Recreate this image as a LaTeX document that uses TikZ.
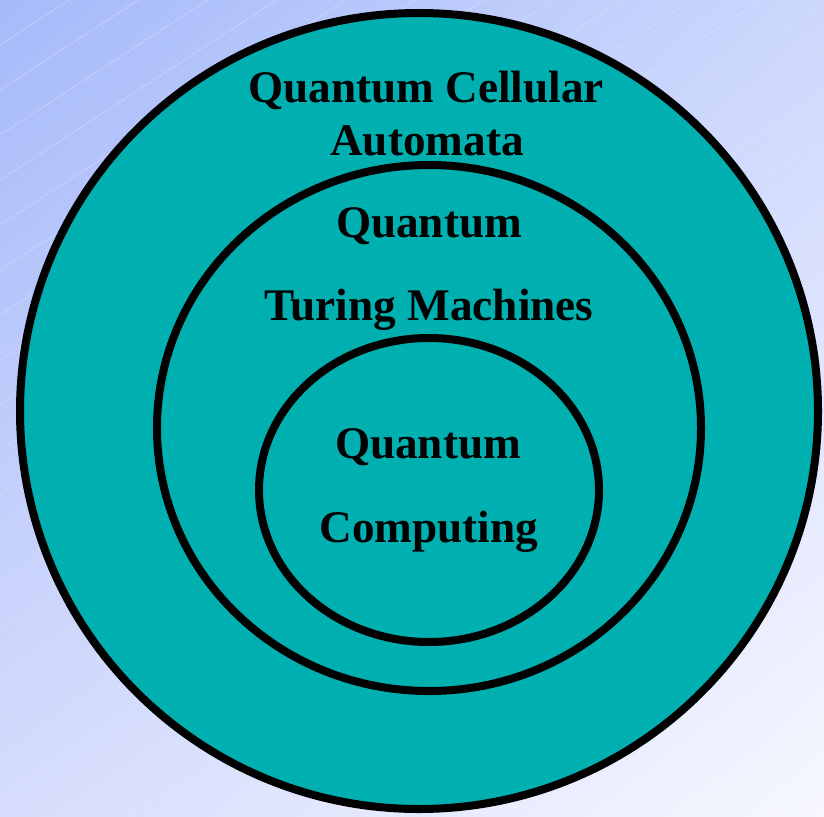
\documentclass[tikz,border=0pt]{standalone}
\usepackage{fontspec}
\setmainfont{Liberation Serif}
\usetikzlibrary{shadings}
\definecolor{qteal}{RGB}{0,176,176}
\definecolor{bgTL}{RGB}{166,186,250}
\definecolor{bgTR}{RGB}{204,215,252}
\definecolor{bgBL}{RGB}{214,221,252}
\definecolor{bgBR}{RGB}{246,247,255}
\begin{document}
\begin{tikzpicture}[x=0.03cm, y=-0.03cm,
  ring/.style={draw=black, line width=0.24cm, fill=qteal},
  caption/.style={font=\bfseries\fontsize{38.6}{44}\selectfont, anchor=base, inner sep=0pt}]
\useasboundingbox (0,0) rectangle (824,816);

% Background: soft diagonal gradient with faint stripes
\shade[upper left=bgTL, upper right=bgTR, lower left=bgBL, lower right=bgBR] (0,0) rectangle (824,816);
\begin{scope}
  \clip (0,0) rectangle (824,816);
  \foreach \c in {0,45,...,1400}
    \draw[white, line width=0.5pt, opacity={0.35*(1-\c/1500)}] (0,\c) -- (824,\c-536);
\end{scope}

% Nested sets
\draw[ring] (419,411) ellipse [x radius=399, y radius=398];
\draw[ring] (429,428) ellipse [x radius=272, y radius=263];
\draw[ring] (429,490) ellipse [x radius=170, y radius=152];

% Labels
\node[caption] (qcaTop) at (426,102) {Quantum Cellular};
\node[caption] (qcaBot) at (427,155) {Automata};
\node[caption] (qtmTop) at (429,237) {Quantum};
\node[caption] (qtmBot) at (429,320) {Turing Machines};
\node[caption] (qcTop) at (428,458) {Quantum};
\node[caption] (qcBot) at (429,542) {Computing};
\end{tikzpicture}
\end{document}
